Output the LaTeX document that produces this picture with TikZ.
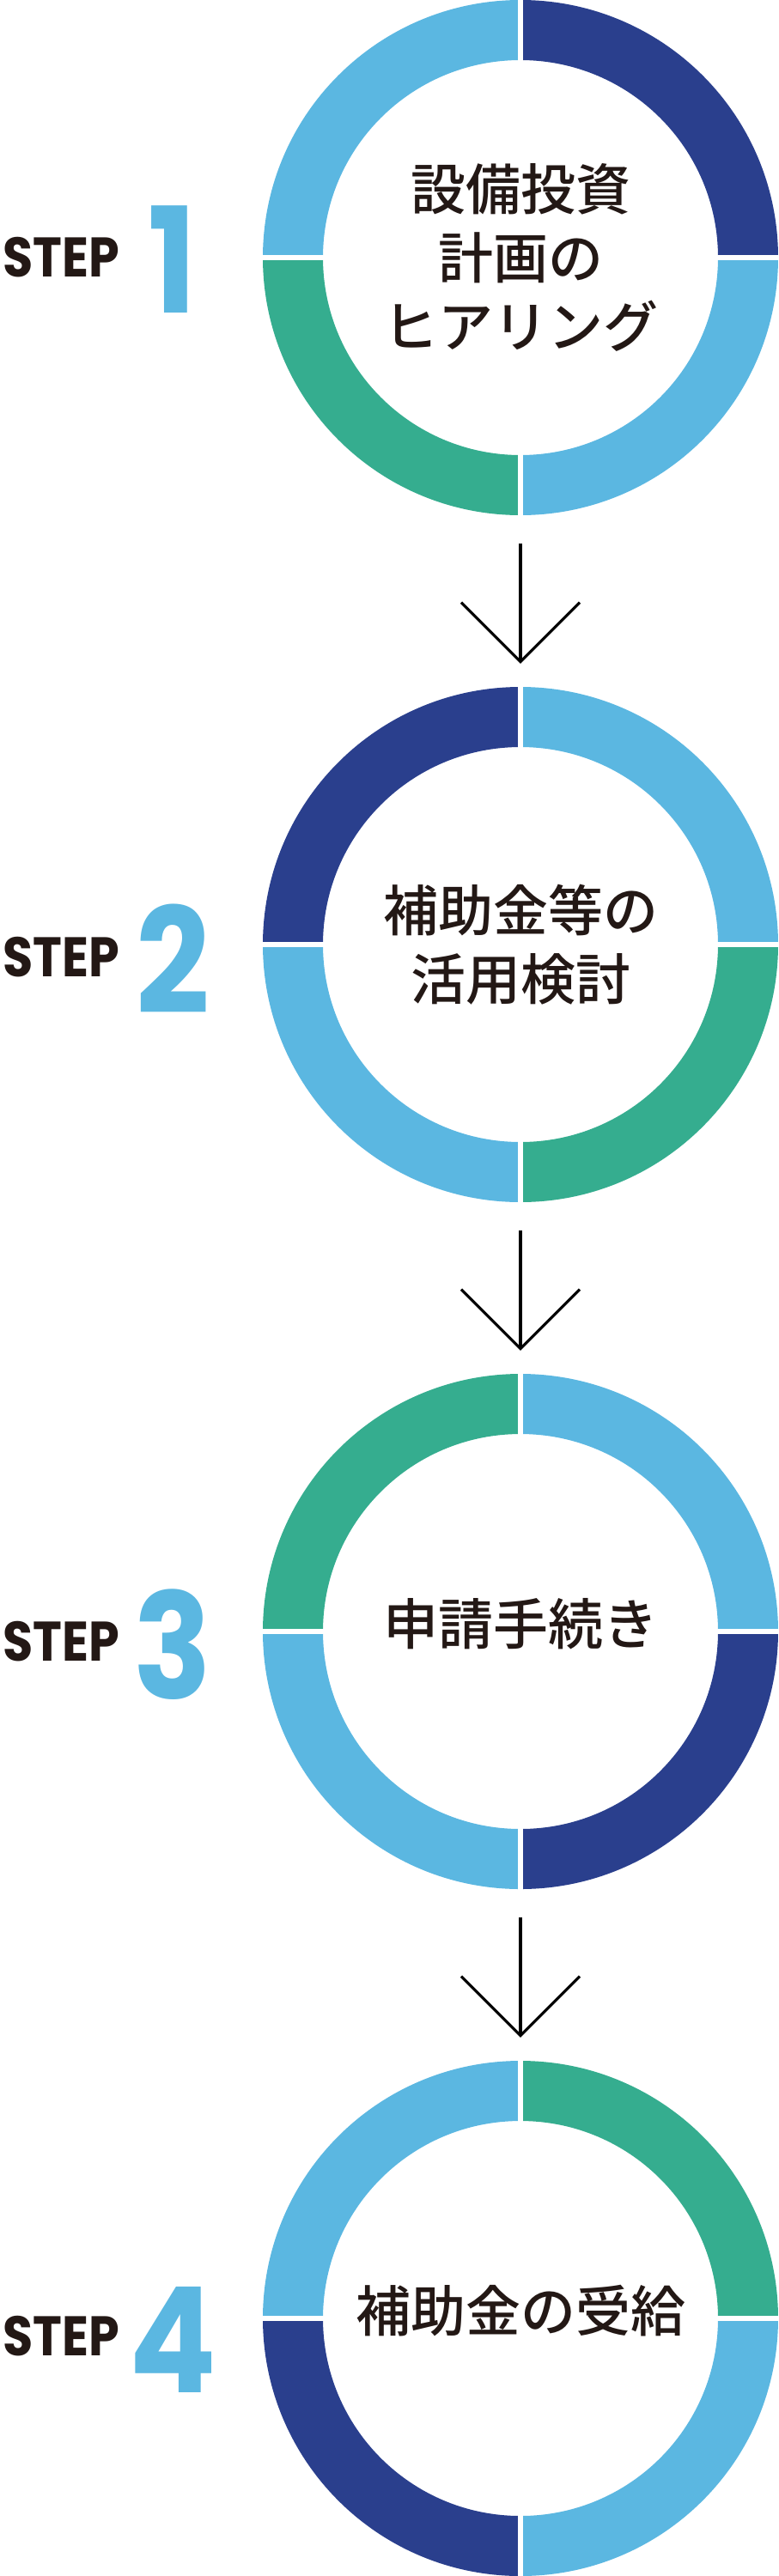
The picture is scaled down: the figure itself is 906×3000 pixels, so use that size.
\documentclass[tikz,border=0pt]{standalone}
\usepackage{fontspec}
\usetikzlibrary{arrows.meta}
\IfFontExistsTF{NotoSansCJKjp-Medium.otf}{\newfontfamily\jpfont{NotoSansCJKjp-Medium.otf}}{%
\IfFontExistsTF{NotoSansCJK-Medium.ttc}{\newfontfamily\jpfont{NotoSansCJK-Medium.ttc}}{%
\IfFontExistsTF{SourceHanSansJP-Medium.otf}{\newfontfamily\jpfont{SourceHanSansJP-Medium.otf}}{%
\IfFontExistsTF{ipaexg.ttf}{\newfontfamily\jpfont{ipaexg.ttf}}{%
\newfontfamily\jpfont{Noto Sans CJK JP}}}}}
\newfontfamily\stepfont{Poppins}[FakeStretch=0.88]
\definecolor{skyblue}{HTML}{5BB7E1}
\definecolor{navyblue}{HTML}{2A3F8D}
\definecolor{seagreen}{HTML}{35AD8F}
\definecolor{inkblack}{HTML}{231815}
% ring of four quarters round a step node: #1 node, then TR, TL, BL, BR
\newcommand{\donut}[5]{%
  \foreach \col [count=\q from 0] in {#2,#3,#4,#5}
    \fill[\col] (#1.center) ++(\q*90:300) arc[start angle=\q*90, delta angle=90, radius=300]
      -- ++({(\q+1)*90}:-70) arc[start angle={(\q+1)*90}, delta angle=-90, radius=230] -- cycle;
  \foreach \a in {0,90,180,270}
    \draw[gapline] ([shift={(\a:226)}]#1.center) -- ([shift={(\a:304)}]#1.center);
}
\begin{document}
\begin{tikzpicture}[
    x=1pt, y=1pt,
    stepcircle/.style={circle, minimum size=600pt, inner sep=0pt, align=center, text=inkblack, font=\jpfont\fontsize{64}{80}\selectfont},
    oneline/.style={text depth=24pt},
    steptext/.style={anchor=base west, inner sep=0pt, text=inkblack, font=\stepfont\bfseries\fontsize{65}{65}\selectfont},
    stepnum/.style={anchor=base, inner sep=0pt, text=skyblue, font=\stepfont\bfseries\fontsize{171}{171}\selectfont},
    flowarrow/.style={-{Straight Barb[length=69pt, width=138pt]}, line width=3.2pt, black},
    gapline/.style={white, line width=6pt}
]
    \useasboundingbox (0,0) rectangle (906,-3000);

% -------------------------
% Circles
% -------------------------
    \node[stepcircle] (c1) at (606, -300) {設備投資\\計画の\\ヒアリング};
    \node[stepcircle] (c2) at (606, -1100) {補助金等の\\活用検討};
    \node[stepcircle, oneline] (c3) at (606, -1900) {申請手続き};
    \node[stepcircle, oneline] (c4) at (606, -2700) {補助金の受給};

    \donut{c1}{navyblue}{skyblue}{seagreen}{skyblue}
    \donut{c2}{skyblue}{navyblue}{skyblue}{seagreen}
    \donut{c3}{skyblue}{seagreen}{skyblue}{navyblue}
    \donut{c4}{seagreen}{skyblue}{navyblue}{skyblue}

% -------------------------
% STEP labels
% -------------------------
    \node[steptext] (s1) at (3, -322) {STEP};
    \node[stepnum] (n1) at (201, -364) {1};
    \node[steptext] (s2) at (3, -1137) {STEP};
    \node[stepnum] (n2) at (201, -1180) {2};
    \node[steptext] (s3) at (3, -1934) {STEP};
    \node[stepnum] (n3) at (201, -1978) {3};
    \node[steptext] (s4) at (3, -2743) {STEP};
    \node[stepnum] (n4) at (201, -2786) {4};

% -------------------------
% Arrows
% -------------------------
    \draw[flowarrow] ([yshift=-33pt]c1.south) -- ([yshift=27pt]c2.north);
    \draw[flowarrow] ([yshift=-33pt]c2.south) -- ([yshift=27pt]c3.north);
    \draw[flowarrow] ([yshift=-33pt]c3.south) -- ([yshift=27pt]c4.north);
\end{tikzpicture}
\end{document}
